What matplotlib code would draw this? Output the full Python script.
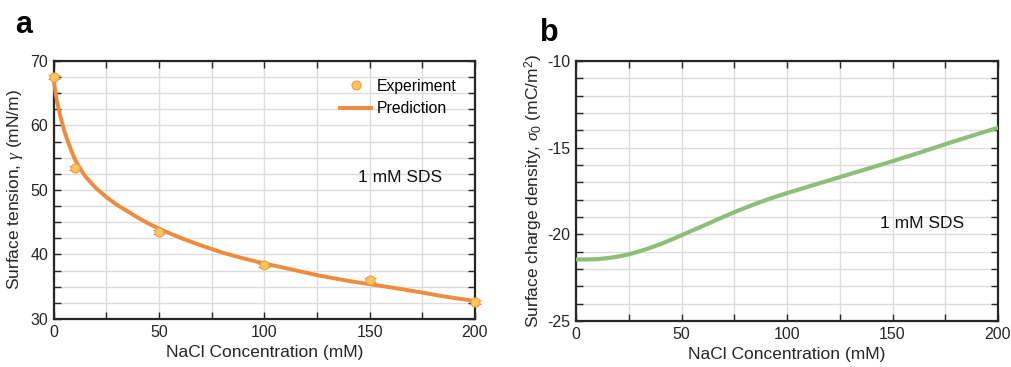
import matplotlib
matplotlib.use("Agg")
import matplotlib.pyplot as plt
from matplotlib.ticker import MultipleLocator

plt.rcParams['font.family'] = ['Liberation Sans', 'DejaVu Sans']
plt.rcParams['mathtext.fontset'] = 'custom'
plt.rcParams['mathtext.it'] = 'Liberation Serif:italic'
plt.rcParams['mathtext.rm'] = 'Liberation Sans'
plt.rcParams['axes.unicode_minus'] = False

# Panel a data
exp_x = [0, 10, 50, 100, 150, 200]
exp_y = [67.5, 53.4, 43.5, 38.3, 36.1, 32.7]
exp_err = [0.3, 0.3, 0.3, 0.3, 0.3, 0.3]
pred_x = [0, 0.25, 0.5, 1, 1.5, 2, 3, 4, 5, 6, 8, 10, 12, 15, 20, 25, 30, 35, 40, 45,
          50, 60, 70, 80, 90, 100, 110, 125, 140, 150, 160, 175, 185, 200]
pred_y = [67.5, 66.6, 65.9, 64.8, 63.9, 63.1, 61.7, 60.4, 59.2, 58.2, 56.4, 54.8,
          53.6, 52.1, 50.3, 48.9, 47.7, 46.7, 45.7, 44.8, 44.0, 42.6, 41.4, 40.3,
          39.4, 38.6, 37.9, 36.8, 35.9, 35.4, 34.9, 34.1, 33.5, 32.8]

# Panel b data
sig_x = [0, 5, 10, 15, 20, 25, 30, 35, 40, 45, 50, 55, 60, 65, 70, 75, 80, 85, 90,
         95, 100, 110, 125, 137.5, 150, 162.5, 175, 187.5, 200]
sig_y = [-21.45, -21.45, -21.43, -21.37, -21.28, -21.15, -20.98, -20.78, -20.56,
         -20.31, -20.05, -19.78, -19.52, -19.25, -18.98, -18.72, -18.48, -18.24,
         -18.02, -17.81, -17.62, -17.25, -16.70, -16.24, -15.78, -15.30, -14.80,
         -14.32, -13.85]

fig = plt.figure(figsize=(10.11, 3.67), dpi=100)
axa = fig.add_axes([0.0531, 0.1308, 0.4167, 0.7030])
axb = fig.add_axes([0.5700, 0.1253, 0.4171, 0.7085])

spine_c = '#262626'
grid_c = '#dcdcdc'

def style(ax, ymaj, yminor):
    ax.set_xlim(0, 200)
    ax.xaxis.set_major_locator(MultipleLocator(50))
    ax.xaxis.set_minor_locator(MultipleLocator(25))
    ax.yaxis.set_major_locator(MultipleLocator(ymaj))
    ax.yaxis.set_minor_locator(MultipleLocator(yminor))
    ax.grid(True, which='both', color=grid_c, linewidth=1.0)
    ax.set_axisbelow(True)
    ax.tick_params(which='both', direction='in', top=True, right=True,
                   colors=spine_c, labelcolor='#262626', labelsize=11.5, width=1.0)
    ax.tick_params(which='major', length=5, pad=4)
    ax.tick_params(which='minor', length=5)
    for s in ax.spines.values():
        s.set_color(spine_c)
        s.set_linewidth(1.6)

# Panel a
style(axa, 10, 2.5)
axa.set_ylim(30, 70)
axa.plot(pred_x, pred_y, color='#f28a3c', linewidth=2.8, label='Prediction', zorder=3,
         clip_on=False)
axa.errorbar(exp_x, exp_y, yerr=exp_err, fmt='none', ecolor='#f07c9c', elinewidth=0.8,
             capsize=4, capthick=0.8, zorder=4, clip_on=False)
axa.plot(exp_x, exp_y, 'o', markersize=6.5, markerfacecolor='#f7c65a',
         markeredgecolor='#f0a040', markeredgewidth=0.8, linestyle='none',
         label='Experiment', zorder=5, clip_on=False)
axa.set_xlabel('NaCl Concentration (mM)', fontsize=12.5, color='#262626', labelpad=4)
axa.set_ylabel(r'Surface tension, $\gamma$ (mN/m)', fontsize=12.5, color='#262626',
               labelpad=4)
axa.text(144.5, 51.9, '1 mM SDS', fontsize=12.5, va='center', ha='left', color='#111111')
h, l = axa.get_legend_handles_labels()
axa.legend([h[1], h[0]], [l[1], l[0]], loc='upper right', frameon=False, fontsize=11.3,
           bbox_to_anchor=(0.99, 0.985), handlelength=2.0, handletextpad=0.35,
           labelspacing=0.45)

# Panel b
style(axb, 5, 1)
axb.set_ylim(-25, -10)
axb.plot(sig_x, sig_y, color='#8dbf78', linewidth=3.0, zorder=3)
axb.set_xlabel('NaCl Concentration (mM)', fontsize=12.5, color='#262626', labelpad=4)
axb.set_ylabel(r'Surface charge density, $\sigma_0$ (mC/m$^2$)', fontsize=12.5,
               color='#262626', labelpad=2)
axb.text(144, -19.35, '1 mM SDS', fontsize=12.5, va='center', ha='left', color='#111111')

fig.text(0.015, 0.909, 'a', fontsize=22, fontweight='bold', va='baseline', ha='left')
fig.text(0.534, 0.8896, 'b', fontsize=22, fontweight='bold', va='baseline', ha='left')

fig.savefig('out.png', dpi=100)
